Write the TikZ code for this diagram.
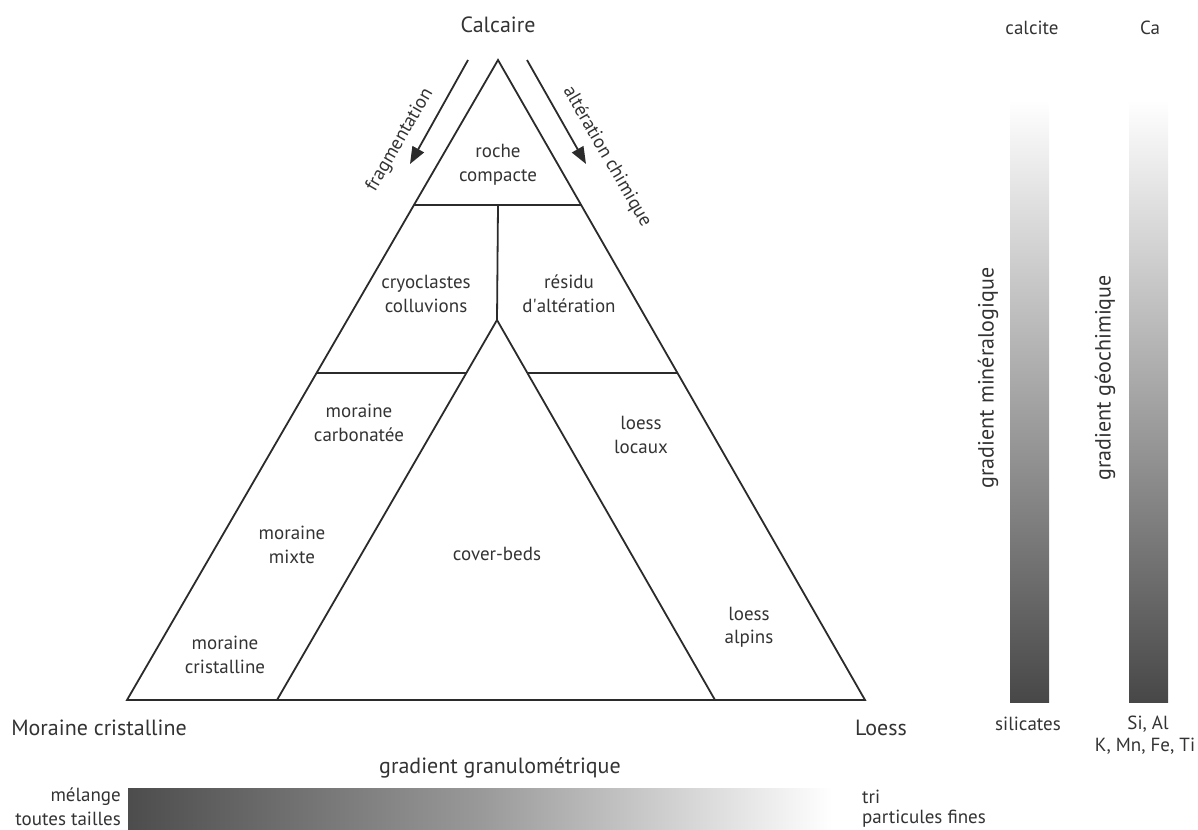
\documentclass[tikz,border=0pt]{standalone}
\usepackage{fontspec}
\setmainfont{PT Sans}
\usetikzlibrary{arrows.meta}
\definecolor{ink}{HTML}{2B2B2B}
\definecolor{txt}{HTML}{333333}
\tikzset{
  lbl/.style={font=\fontsize{19}{23.5}\selectfont, text=txt, align=center, inner sep=0pt},
  big/.style={font=\fontsize{22}{24}\selectfont, text=txt, inner sep=0pt},
  edgeline/.style={draw=ink, line width=1.8pt, line join=miter},
  flow/.style={draw=ink, line width=1.8pt, -{Triangle[length=17pt,width=13pt]}},
  grad/.style={draw=none}
}
\begin{document}
\begin{tikzpicture}[x=1pt,y=-1pt]
\useasboundingbox (0,0) rectangle (1198,829);
% triangle vertices
\coordinate (A) at (498,60);
\coordinate (B) at (127,700);
\coordinate (C) at (865,700);
\coordinate (P1) at (414,205);
\coordinate (P2) at (582,205);
\coordinate (M1) at (498,205);
\coordinate (J) at (497,320);
\coordinate (L1) at (317,373);
\coordinate (L2) at (466,373);
\coordinate (R1) at (528,373);
\coordinate (R2) at (677,373);
\coordinate (BL) at (277,700);
\coordinate (BR) at (715,700);
\draw[edgeline] (A) -- (B) -- (C) -- cycle;
\draw[edgeline] (P1) -- (P2);
\draw[edgeline] (M1) -- (J);
\draw[edgeline] (BL) -- (J) -- (BR);
\draw[edgeline] (L1) -- (L2);
\draw[edgeline] (R1) -- (R2);
% process arrows
\coordinate (fa) at (468,60);
\coordinate (fb) at (410,164);
\coordinate (ca) at (527,60);
\coordinate (cb) at (586,164);
\draw[flow] (fa) -- (fb);
\draw[flow] (ca) -- (cb);
\node[lbl, rotate=60] (frag) at (400,140) {fragmentation};
\node[lbl, rotate=-60] (alt) at (607,157) {altération chimique};
% labels
\node[big] (calc) at (498,25) {Calcaire};
\node[big] (mor) at (99,728) {Moraine cristalline};
\node[big] (loe) at (881,728) {Loess};
\node[lbl] (roc) at (498,165) {roche\\compacte};
\node[lbl] (cryo) at (426,294) {cryoclastes\\colluvions};
\node[lbl] (res) at (569,294) {résidu\\d\textquotesingle altération};
\node[lbl] (mc) at (359,423) {moraine\\carbonatée};
\node[lbl] (mm) at (292,545) {moraine\\mixte};
\node[lbl] (mcr) at (225,655) {moraine\\cristalline};
\node[lbl] (cb2) at (497,554) {cover-beds};
\node[lbl] (ll) at (641,435) {loess\\locaux};
\node[lbl] (la) at (749,627) {loess\\alpins};
% vertical gradients
\shade[grad, top color=white, bottom color=black!72] (1010,100) rectangle (1049,702);
\shade[grad, top color=white, bottom color=black!72] (1129,100) rectangle (1168,702);
\node[lbl] (calcite) at (1032,28) {calcite};
\node[lbl] (ca2) at (1150,28) {Ca};
\node[lbl] (sil) at (1028,724) {silicates};
\node[lbl] (sial) at (1148,724) {Si, Al};
\node[lbl] (kmn) at (1145,746) {K, Mn, Fe, Ti};
\node[big, rotate=90] (gmin) at (988,378) {gradient minéralogique};
\node[big, rotate=90] (ggeo) at (1105,378) {gradient géochimique};
% horizontal gradient
\shade[grad, left color=black!70, right color=white, middle color=black!40] (128,788) rectangle (832,829);
\node[big] (ggr) at (500,768) {gradient granulométrique};
\node[lbl, anchor=east] (mel) at (121,797) {mélange};
\node[lbl, anchor=east] (tt) at (121,819) {toutes tailles};
\node[lbl, anchor=west] (tri) at (862,797) {tri};
\node[lbl, anchor=west] (pf) at (862,819) {particules fines};
\end{tikzpicture}
\end{document}
